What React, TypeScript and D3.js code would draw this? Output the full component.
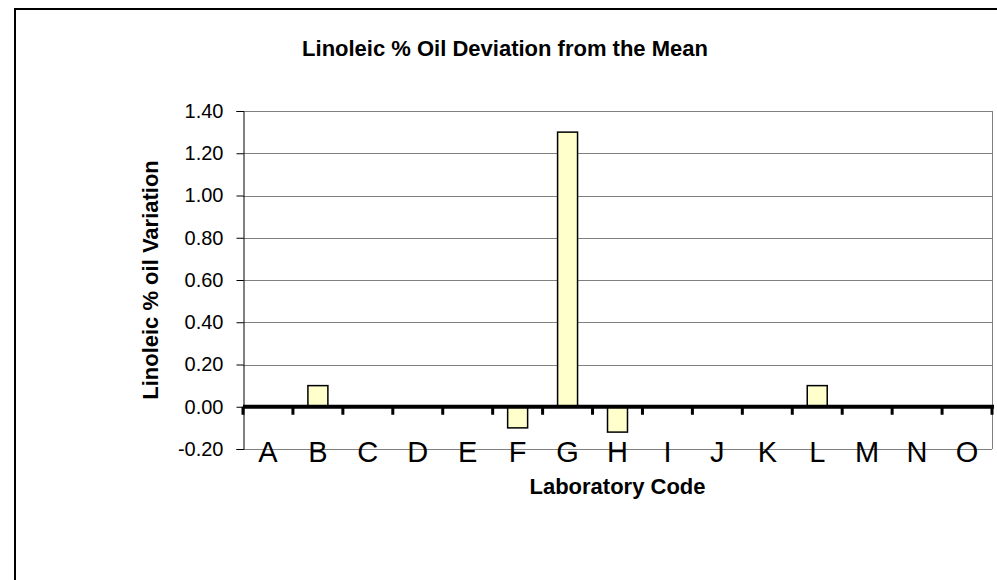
import React, { useRef, useEffect } from 'react';
import * as d3 from 'd3';

const labs = ['A', 'B', 'C', 'D', 'E', 'F', 'G', 'H', 'I', 'J', 'K', 'L', 'M', 'N', 'O'];
const deviation = [0, 0.1, 0, 0, 0, -0.1, 1.3, -0.12, 0, 0, 0, 0.1, 0, 0, 0];
const yTicks = [-0.2, 0, 0.2, 0.4, 0.6, 0.8, 1.0, 1.2, 1.4];

const FONT = '"Liberation Sans", Arial, sans-serif';

function App() {
    const ref = useRef(null);

    useEffect(() => {
        const svg = d3.select(ref.current);
        svg.selectAll('*').remove();

        const plot = { left: 243, right: 992, top: 111, bottom: 449 };

        // outer chart frame, runs off the page at right/bottom
        svg.append('rect')
            .attr('x', 15).attr('y', 9)
            .attr('width', 1000).attr('height', 600)
            .attr('fill', 'white')
            .attr('stroke', 'black')
            .attr('stroke-width', 2);

        const x = d3.scaleBand()
            .domain(labs)
            .range([plot.left, plot.right])
            .paddingInner(0.6)
            .paddingOuter(0.3);

        const y = d3.scaleLinear()
            .domain([-0.2, 1.4])
            .range([plot.bottom, plot.top]);

        // gridlines
        svg.append('g')
            .selectAll('line')
            .data(yTicks)
            .join('line')
            .attr('x1', plot.left).attr('x2', plot.right)
            .attr('y1', d => Math.round(y(d)) + 0.5)
            .attr('y2', d => Math.round(y(d)) + 0.5)
            .attr('stroke', '#808080')
            .attr('stroke-width', 1);

        svg.append('line')
            .attr('x1', plot.right + 0.5).attr('x2', plot.right + 0.5)
            .attr('y1', plot.top).attr('y2', plot.bottom)
            .attr('stroke', '#808080');

        // y axis (plain hyphen for negatives, like Excel)
        const fmt = d3.format('.2f');
        const yAxis = d3.axisLeft(y)
            .tickValues(yTicks)
            .tickSize(7)
            .tickPadding(13)
            .tickFormat(d => fmt(d).replace('\u2212', '-'));

        const ya = svg.append('g')
            .attr('transform', `translate(${plot.left + 0.5},0)`)
            .call(yAxis);
        ya.select('.domain').attr('stroke', 'black');
        ya.selectAll('text')
            .attr('font-family', FONT)
            .attr('font-size', 20)
            .attr('fill', 'black');

        // bars
        svg.append('g')
            .selectAll('rect')
            .data(deviation)
            .join('rect')
            .attr('x', (d, i) => x(labs[i]))
            .attr('width', x.bandwidth())
            .attr('y', d => y(Math.max(0, d)))
            .attr('height', d => Math.abs(y(d) - y(0)))
            .attr('fill', '#FFFFCC')
            .attr('stroke', 'black')
            .attr('stroke-width', 1.5);

        // zero category axis with ticks between categories
        const bounds = labs.map(l => x(l) - x.step() * x.paddingInner() / 2);
        bounds.push(plot.right);
        svg.append('line')
            .attr('x1', plot.left).attr('x2', plot.right + 2)
            .attr('y1', y(0)).attr('y2', y(0))
            .attr('stroke', 'black')
            .attr('stroke-width', 4);
        svg.append('g')
            .selectAll('line')
            .data(bounds)
            .join('line')
            .attr('x1', d => d).attr('x2', d => d)
            .attr('y1', y(0)).attr('y2', y(0) + 8)
            .attr('stroke', 'black')
            .attr('stroke-width', 3);

        // category labels
        svg.append('g')
            .selectAll('text')
            .data(labs)
            .join('text')
            .attr('x', d => x(d) + x.bandwidth() / 2)
            .attr('y', 462)
            .attr('text-anchor', 'middle')
            .attr('font-family', FONT)
            .attr('font-size', 29)
            .text(d => d);

        svg.append('text')
            .attr('x', 505).attr('y', 56)
            .attr('text-anchor', 'middle')
            .attr('font-family', FONT)
            .attr('font-weight', 'bold')
            .attr('font-size', 22)
            .text('Linoleic % Oil Deviation from the Mean');

        svg.append('text')
            .attr('x', (plot.left + plot.right) / 2).attr('y', 494)
            .attr('text-anchor', 'middle')
            .attr('font-family', FONT)
            .attr('font-weight', 'bold')
            .attr('font-size', 22)
            .text('Laboratory Code');

        svg.append('text')
            .attr('transform', `translate(158,${(plot.top + plot.bottom) / 2}) rotate(-90)`)
            .attr('text-anchor', 'middle')
            .attr('font-family', FONT)
            .attr('font-weight', 'bold')
            .attr('font-size', 22)
            .text('Linoleic % oil Variation');
    }, []);

    return (
        <svg ref={ref} width={997} height={580}
            style={{ position: 'absolute', left: 0, top: 0, background: 'white' }}></svg>
    );
}

export default App;
